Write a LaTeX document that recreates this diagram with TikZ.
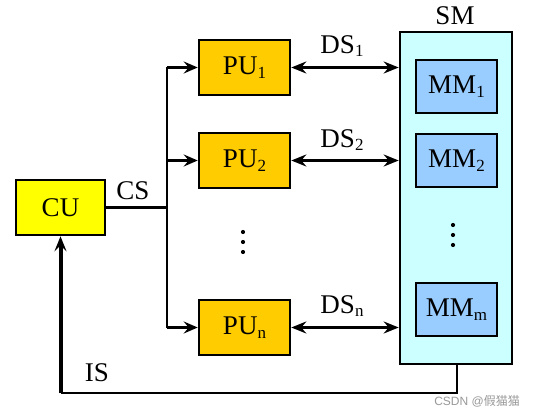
\documentclass[tikz,border=0pt]{standalone}
\usepackage{fontspec}
\setmainfont{Liberation Serif}
\newfontfamily\cjkfont{Noto Sans CJK SC}
\newfontfamily\wmfont{Liberation Sans}
\usetikzlibrary{arrows.meta}
\definecolor{cuyellow}{HTML}{FFFF00}
\definecolor{puorange}{HTML}{FFCC00}
\definecolor{smcyan}{HTML}{CCFFFF}
\definecolor{mmblue}{HTML}{99CCFF}
\newcommand{\sbs}[1]{\raisebox{-0.3ex}{\fontsize{17}{18}\selectfont #1}}
\begin{document}
\begin{tikzpicture}[x=1pt,y=-1pt,
  box/.style={draw=black, line width=2.6pt, inner sep=0pt, font=\fontsize{27}{29}\selectfont},
  cubox/.style={box, fill=cuyellow, minimum width=89pt, minimum height=55pt},
  pubox/.style={box, fill=puorange, minimum width=91pt, minimum height=55pt},
  mmbox/.style={box, fill=mmblue, minimum width=81pt, minimum height=53pt},
  smbox/.style={box, fill=smcyan, minimum width=112pt, minimum height=332pt},
  lbl/.style={font=\fontsize{27}{29}\selectfont, inner sep=0pt},
  wire/.style={line width=2.6pt},
  ctrl/.style={wire, -{Stealth[length=14pt, width=12pt, inset=5pt]}},
  data/.style={line width=3.6pt, {Stealth[length=15pt, width=12pt, inset=5pt]}-{Stealth[length=15pt, width=12pt, inset=5pt]}},
  dot/.style={fill=black, draw=none}
]
\useasboundingbox (0,0) rectangle (536,417);
\fill[white] (0,0) rectangle (536,417);

% nodes
\node[cubox] (CU) at (60.5,207.5) {CU};
\node[pubox] (PU1) at (244.5,67.5) {PU\sbs{1}};
\node[pubox] (PU2) at (244.5,160.5) {PU\sbs{2}};
\node[pubox] (PUn) at (244.5,327.5) {PU\sbs{n}};
\node[smbox] (SM) at (456,198) {};
\node[mmbox] (MM1) at (456.5,86.5) {MM\sbs{1}};
\node[mmbox] (MM2) at (456.5,160.5) {MM\sbs{2}};
\node[mmbox] (MMm) at (456.5,309.5) {MM\sbs{m}};

% labels
\node[lbl] (SMl) at (455,16) {SM};
\node[lbl] (CSl) at (133,191) {CS};
\node[lbl] (DS1l) at (342,46) {DS\sbs{1}};
\node[lbl] (DS2l) at (342,140) {DS\sbs{2}};
\node[lbl] (DSnl) at (342,306) {DS\sbs{n}};
\node[lbl] (ISl) at (97,373) {IS};

% dots
\foreach \yy in {232,242,252} \fill[dot] (243,\yy) circle (2.1pt);
\foreach \yy in {225,235,245} \fill[dot] (453,\yy) circle (2.1pt);

% control signal bus
\coordinate (br) at (167,207.5);
\coordinate (b1) at (167,67.5);
\coordinate (b2) at (167,160.5);
\coordinate (bn) at (167,327.5);
\draw[wire] (CU.east) -- (br);
\draw[wire] (b1) -- (bn);
\draw[ctrl] (b1) -- (PU1.west);
\draw[ctrl] (b2) -- (PU2.west);
\draw[ctrl] (bn) -- (PUn.west);

% data signals
\draw[data] (PU1.east) -- (PU1.east -| SM.west);
\draw[data] (PU2.east) -- (PU2.east -| SM.west);
\draw[data] (PUn.east) -- (PUn.east -| SM.west);

% instruction signal
\coordinate (isr) at (457,393);
\coordinate (isl) at (60.5,393);
\draw[wire, line join=miter] (SM.south -| isr) -- (isr) -- (isl);
\draw[line width=4pt, -{Stealth[length=15pt, width=12pt, inset=6pt]}] (isl) -- (CU.south);

% watermark
\node[text=black!40, font=\fontsize{12}{14}\selectfont, inner sep=0pt, anchor=east] (wm) at (520,401) {{\wmfont CSDN @}{\cjkfont 假猫猫}};
\end{tikzpicture}
\end{document}
